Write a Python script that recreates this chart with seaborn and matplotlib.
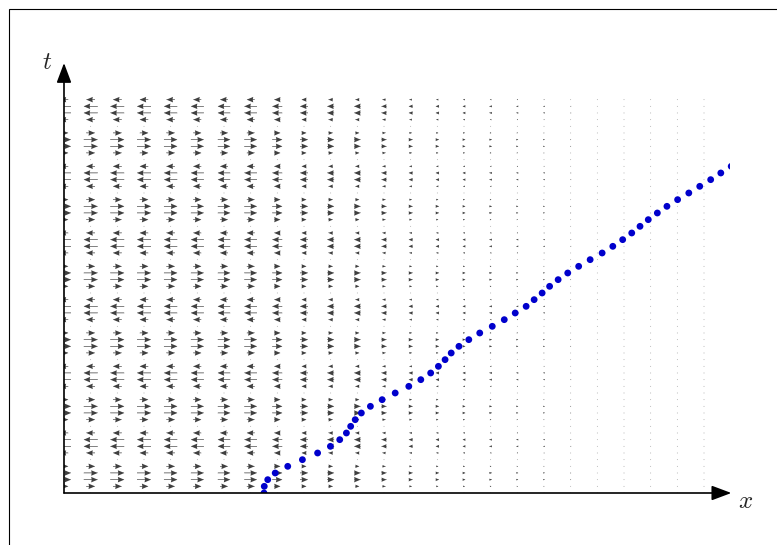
import numpy as np
import seaborn as sns
import matplotlib.pyplot as plt
import pandas as pd
from matplotlib.patches import Rectangle

# grid of the field (x columns, t rows)
x_cols = [0.0, 0.1, 0.2, 0.3, 0.4, 0.5, 0.6, 0.7, 0.8, 0.9, 1.0, 1.1, 1.2,
          1.3, 1.4, 1.5, 1.6, 1.7, 1.8, 1.9, 2.0, 2.1, 2.2, 2.3, 2.4]
t_rows = [round(0.1 * k, 1) for k in range(60)]

# strength of the field along x
col_amp = [1.0, 1.0, 1.0, 1.0, 0.96, 0.93, 0.9, 0.9, 0.72, 0.57, 0.5, 0.46, 0.36,
           0.29, 0.25, 0.21, 0.18, 0.14, 0.11, 0.07, 0.04, 0.02, 0.015, 0.01, 0.01]
# sign / strength over one period in t (10 rows)
row_pattern = [0.0, 0.59, 0.95, 0.95, 0.59, 0.0, -0.59, -0.95, -0.95, -0.59]

# trajectory (blue dots), one per t row
t_traj = [round(0.1 * k, 1) for k in range(50)]
x_traj = [0.750, 0.751, 0.764, 0.792, 0.839, 0.894, 0.951, 0.999, 1.034, 1.059,
          1.075, 1.092, 1.115, 1.149, 1.193, 1.242, 1.293, 1.338, 1.375, 1.404,
          1.429, 1.452, 1.481, 1.518, 1.559, 1.606, 1.651, 1.692, 1.733, 1.763,
          1.793, 1.821, 1.853, 1.889, 1.930, 1.973, 2.018, 2.058, 2.095, 2.129,
          2.160, 2.191, 2.225, 2.261, 2.301, 2.343, 2.384, 2.425, 2.463, 2.502]

sns.set_style("white")
plt.rcParams["mathtext.fontset"] = "cm"

W, H = 777, 545
fig = plt.figure(figsize=(W / 100, H / 100), dpi=100)

# axes placed in pixels: origin (64, 493), right 730, top 63
x0, y0, x1, y1 = 64, 493, 730, 63
ax = fig.add_axes([x0 / W, 1 - y0 / H, (x1 - x0) / W, (y0 - y1) / H])
ax.set_xlim(0, (x1 - x0) / 266.67)
ax.set_ylim(0, (y0 - y1) / 66.67)

X, T = np.meshgrid(x_cols, t_rows)
pat = np.array([row_pattern[i % 10] for i in range(len(t_rows))])
U = np.outer(pat, col_amp)
V = np.zeros_like(U)

# light thin shafts, then dark heads on top
ax.quiver(X, T, U, V, angles="xy", scale_units="xy", scale=18.1,
          pivot="mid", units="dots", width=1.0, headwidth=1, headlength=0,
          headaxislength=0, color="#c8c8c8", zorder=2)
ax.quiver(X, T, U, V, angles="xy", scale_units="xy", scale=18.1,
          pivot="mid", units="dots", width=0.5, headwidth=11,
          headlength=13, headaxislength=12, color="#404040", zorder=2)

traj = pd.DataFrame({"x": x_traj, "t": t_traj})
sns.scatterplot(data=traj, x="x", y="t", ax=ax, color="#0000cc", s=24,
                edgecolor="none", zorder=3)

for s in ax.spines.values():
    s.set_visible(False)
ax.set_xticks([])
ax.set_yticks([])
ax.set_xlabel("")
ax.set_ylabel("")
ax.patch.set_alpha(0)

arrow_kw = dict(arrowstyle="-|>,head_length=0.8,head_width=0.3",
                color="black", lw=1.2, shrinkA=0, shrinkB=0, mutation_scale=15)
ax.annotate("", xy=(1.002, 0), xytext=(0, 0), xycoords="axes fraction",
            arrowprops=arrow_kw, annotation_clip=False)
ax.annotate("", xy=(0, 1), xytext=(0, 0), xycoords="axes fraction",
            arrowprops=arrow_kw, annotation_clip=False)

fig.text(47 / W, 1 - 62 / H, "$t$", fontsize=18, ha="center", va="center")
fig.text(746 / W, 1 - 501 / H, "$x$", fontsize=18, ha="center", va="center")

# outer frame (cropped on the right and bottom)
fig.patches.append(Rectangle((8.5 / W, -0.2), 1.2, 1.2 - 8.5 / H,
                             transform=fig.transFigure, fill=False,
                             edgecolor="black", lw=0.8))

fig.savefig("out.png", dpi=100)
